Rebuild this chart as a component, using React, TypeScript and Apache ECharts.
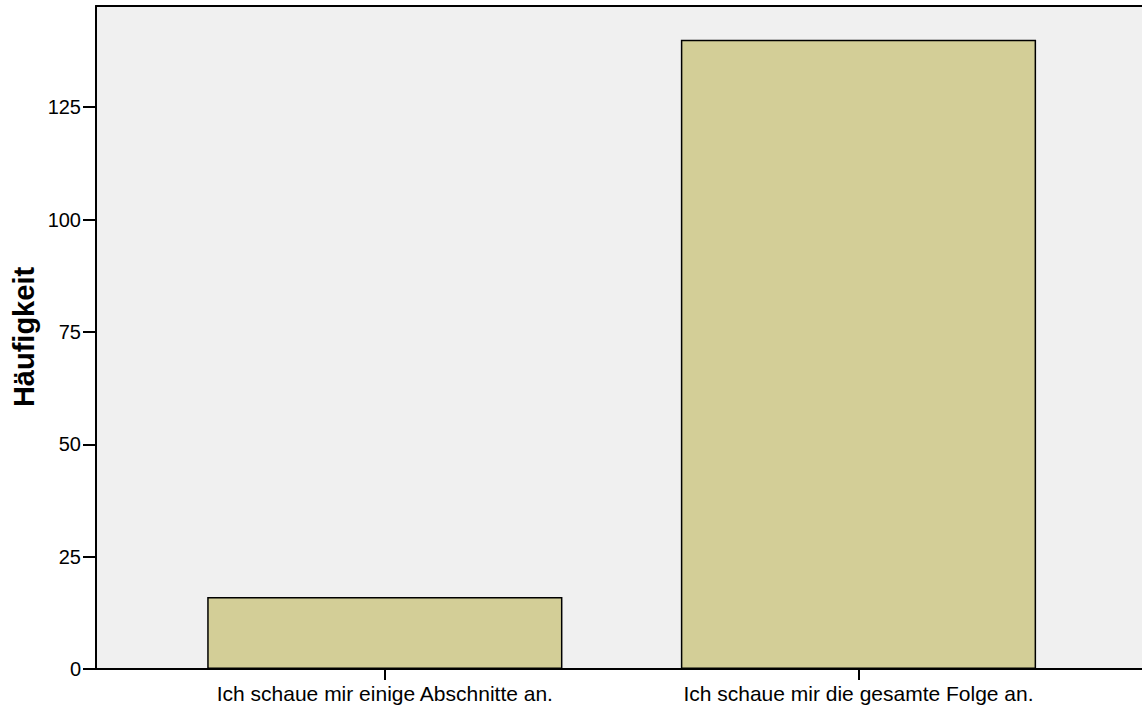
import React, { useEffect, useRef } from "react";
import * as echarts from "echarts";

const categories = ["Ich schaue mir einige Abschnitte an.", "Ich schaue mir die gesamte Folge an."];
const counts = [16, 140];
const yTicks = [0, 25, 50, 75, 100, 125];
const yMax = 147.5;
const yTitle = "Häufigkeit";

const FONT = "'Liberation Sans', Arial, sans-serif";

export default function App() {
  const ref = useRef<HTMLDivElement>(null);
  useEffect(() => {
    if (!ref.current) return;
    const chart = echarts.init(ref.current, undefined, { renderer: "svg" });
    chart.setOption({
      animation: false,
      backgroundColor: "#ffffff",
      grid: [
        { left: 96, right: 0, top: 6, bottom: 40, show: true, backgroundColor: "#f0f0f0", borderWidth: 0, containLabel: false },
        { left: 148, width: 947.3, top: 6, bottom: 40, containLabel: false },
      ],
      xAxis: [
        {
          type: "value", gridIndex: 0, min: 0, max: 1, position: "bottom",
          axisLine: { show: true, lineStyle: { color: "#000", width: 2 } },
          axisTick: { show: false }, axisLabel: { show: false }, splitLine: { show: false },
        },
        {
          type: "value", gridIndex: 0, min: 0, max: 1, position: "top",
          axisLine: { show: true, lineStyle: { color: "#000", width: 2 } },
          axisTick: { show: false }, axisLabel: { show: false }, splitLine: { show: false },
        },
        {
          type: "category", gridIndex: 1, data: categories, position: "bottom",
          axisLine: { show: false },
          axisTick: { show: true, alignWithLabel: true, length: 11, lineStyle: { color: "#000", width: 2 } },
          axisLabel: { color: "#000", fontSize: 21, fontFamily: FONT, margin: 14 },
          splitLine: { show: false },
        },
      ],
      yAxis: [
        {
          type: "value", gridIndex: 0, min: 0, max: yMax,
          axisLine: { show: true, lineStyle: { color: "#000", width: 2 } },
          axisTick: { show: true, length: 13, customValues: yTicks, lineStyle: { color: "#000", width: 2 } },
          axisLabel: { show: true, customValues: yTicks, color: "#000", fontSize: 20, fontFamily: FONT, margin: 15 },
          splitLine: { show: false },
        },
        { type: "value", gridIndex: 1, min: 0, max: yMax, show: false },
      ],
      graphic: [
        {
          type: "text",
          x: 24,
          y: 337,
          rotation: Math.PI / 2,
          style: {
            text: yTitle,
            fill: "#000",
            font: `bold 29px ${FONT}`,
            align: "center",
            verticalAlign: "middle",
          },
        },
      ],
      series: [
        {
          type: "bar",
          xAxisIndex: 2,
          yAxisIndex: 1,
          data: counts,
          barWidth: "75%",
          itemStyle: { color: "#d3ce97", borderColor: "#000", borderWidth: 1.5 },
        },
      ],
    });
    return () => chart.dispose();
  }, []);
  return <div ref={ref} style={{ position: "fixed", left: 0, top: 0, width: 1142, height: 709 }} />;
}
